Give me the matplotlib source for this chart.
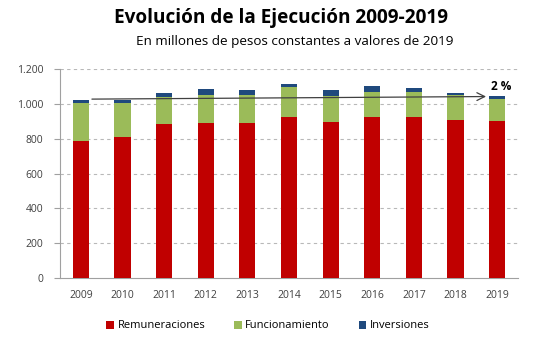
import matplotlib
matplotlib.use("Agg")
import matplotlib.pyplot as plt
import numpy as np

years = ["2009", "2010", "2011", "2012", "2013", "2014", "2015", "2016", "2017", "2018", "2019"]
remuneraciones = [785, 810, 886, 892, 892, 922, 898, 924, 924, 909, 900]
funcionamiento = [221, 196, 153, 158, 158, 174, 147, 146, 142, 141, 127]
inversiones = [16, 16, 23, 37, 27, 16, 32, 30, 23, 12, 18]
yticks = [0, 200, 400, 600, 800, 1000, 1200]
ytick_labels = ["0", "200", "400", "600", "800", "1.000", "1.200"]
growth_label = "2 %"

plt.rcParams['font.family'] = ['Open Sans', 'DejaVu Sans']

fig = plt.figure(figsize=(5.42, 3.49), dpi=100)
ax = fig.add_axes([60/542, 1 - 278/349, 458/542, (278-69)/349])

x = np.arange(len(years))
w = 0.39
r = np.array(remuneraciones)
f = np.array(funcionamiento)
i = np.array(inversiones)
ax.bar(x, r, w, color="#C00000", label="Remuneraciones", zorder=3)
ax.bar(x, f, w, bottom=r, color="#9BBB59", label="Funcionamiento", zorder=3)
ax.bar(x, i, w, bottom=r + f, color="#1F497D", label="Inversiones", zorder=3)

tot = r + f + i
ax.annotate("", xy=(x[-1] - 0.2, tot[-1] - 3), xytext=(x[0] + 0.2, tot[0] + 5),
            arrowprops=dict(arrowstyle="->", color="#404040", lw=0.9, mutation_scale=14), zorder=4)
ax.text(x[-1] + 0.1, tot[-1] + 18, growth_label, fontsize=8.5, fontweight="bold",
        ha="center", va="bottom", zorder=5)

ax.set_xlim(-0.5, len(years) - 0.5)
ax.set_ylim(0, 1200)
ax.set_yticks(yticks)
ax.set_yticklabels(ytick_labels, fontsize=7.5, color="#404040")
ax.set_xticks(x)
ax.set_xticklabels(years, fontsize=7.5, color="#404040")
ax.tick_params(axis="x", length=0, pad=9)
ax.tick_params(axis="y", length=4, color="#A0A0A0", pad=8)
for yv in yticks[1:]:
    ax.axhline(yv, color="#B8B8B8", lw=0.8, ls=(0, (3, 3)), zorder=1)
for s in ["top", "right"]:
    ax.spines[s].set_visible(False)
ax.spines["left"].set_color("#A0A0A0")
ax.spines["bottom"].set_color("#A0A0A0")

fig.text(281/542, 1 - 18/349, "Evolución de la Ejecución 2009-2019", ha="center", va="center",
         fontsize=13.7, fontweight="bold")
fig.text(295/542, 1 - 42/349, "En millones de pesos constantes a valores de 2019", ha="center", va="center",
         fontsize=9.7)

fig.legend(loc="center", bbox_to_anchor=(268/542, 1 - 326/349), ncol=3, frameon=False,
           fontsize=8, handlelength=0.7, handleheight=0.7, handletextpad=0.3, columnspacing=2.6)

fig.savefig("out.png", dpi=100)
